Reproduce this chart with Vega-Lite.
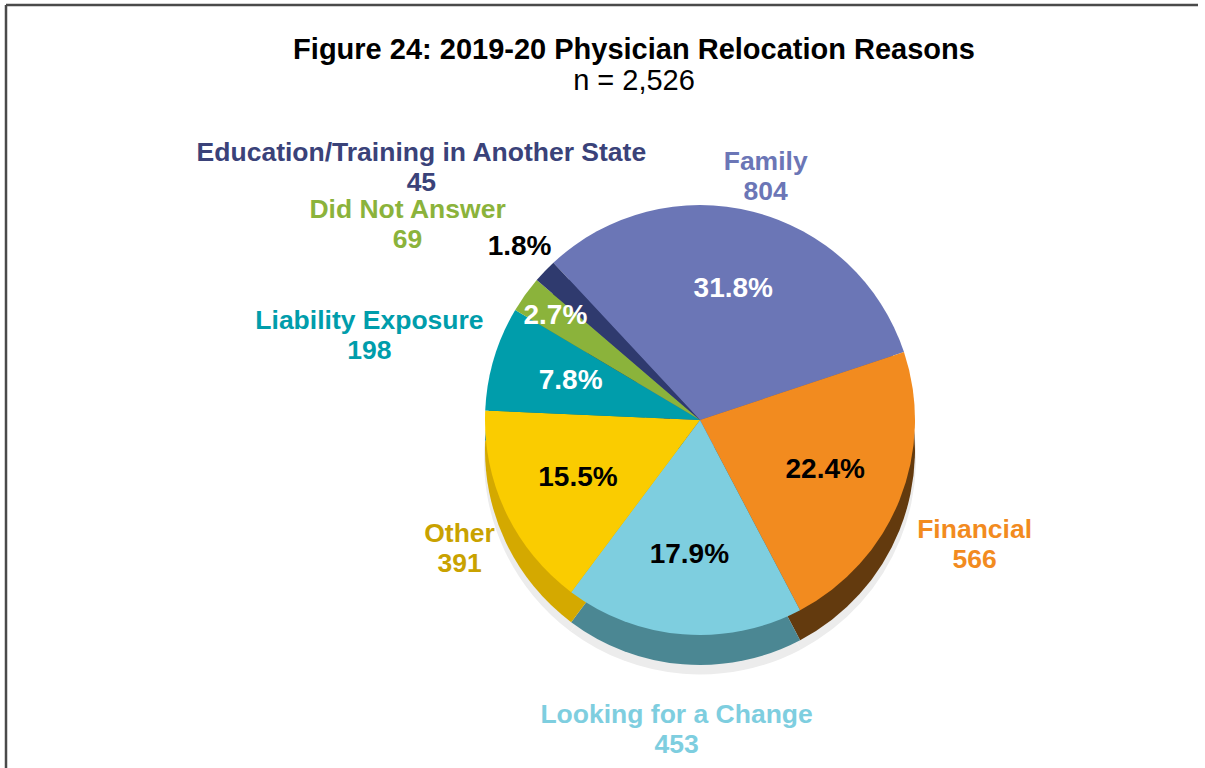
{
  "$schema": "https://vega.github.io/schema/vega-lite/v6.json",
  "width": 1199,
  "height": 763,
  "autosize": "none",
  "padding": {"left": 6, "top": 5, "right": 0, "bottom": 0},
  "background": "white",
  "view": {"stroke": "#4a4a4a", "strokeWidth": 2.5, "fill": "white", "strokeDash": [1192, 1969, 763, 0]},
  "config": {
    "font": "Liberation Sans",
    "text": {"font": "Liberation Sans"}
  },
  "title": {
    "text": "Figure 24: 2019-20 Physician Relocation Reasons",
    "subtitle": "n = 2,526",
    "font": "Liberation Sans",
    "subtitleFont": "Liberation Sans",
    "fontSize": 29,
    "fontWeight": "bold",
    "subtitleFontSize": 29,
    "subtitleFontWeight": "normal",
    "color": "#000000",
    "subtitleColor": "#000000",
    "anchor": "middle",
    "frame": "group",
    "offset": -91,
    "dx": 28.5,
    "subtitlePadding": 2
  },
  "data": {
    "values": [
      {"reason": "Family", "count": 804, "pct": 0.318},
      {"reason": "Financial", "count": 566, "pct": 0.224},
      {"reason": "Looking for a Change", "count": 453, "pct": 0.179},
      {"reason": "Other", "count": 391, "pct": 0.155},
      {"reason": "Liability Exposure", "count": 198, "pct": 0.078},
      {"reason": "Did Not Answer", "count": 69, "pct": 0.027},
      {"reason": "Education/Training in Another State", "count": 45, "pct": 0.018}
    ]
  },
  "transform": [
    {"window": [{"op": "row_number", "as": "idx"}]},
    {"calculate": "datum.reason + '\\n' + format(datum.count, ',')", "as": "label"}
  ],
  "encoding": {
    "theta": {"field": "count", "type": "quantitative", "stack": "zero", "scale": {"range": [-0.7505, 5.5327]}},
    "order": {"field": "idx", "type": "quantitative"}
  },
  "layer": [
    {
      "mark": {"type": "arc", "radius": 216, "xOffset": 94.5, "yOffset": 72, "color": "#ececec"},
      "encoding": {"detail": {"field": "reason", "type": "nominal"}}
    },
    {
      "mark": {"type": "arc", "radius": 215, "xOffset": 94.5, "yOffset": 63.5},
      "encoding": {
        "color": {"field": "reason", "type": "nominal", "legend": null,
          "scale": {"domain": ["Family", "Financial", "Looking for a Change", "Other", "Liability Exposure", "Did Not Answer", "Education/Training in Another State"],
                    "range": ["#4A5390", "#633A0E", "#4B8793", "#D4A900", "#00707A", "#637F2A", "#1F2753"]}}
      }
    },
    {
      "mark": {"type": "arc", "radius": 215, "xOffset": 94.5, "yOffset": 33.5},
      "encoding": {
        "color": {"field": "reason", "type": "nominal", "legend": null,
          "scale": {"domain": ["Family", "Financial", "Looking for a Change", "Other", "Liability Exposure", "Did Not Answer", "Education/Training in Another State"],
                    "range": ["#6B76B6", "#F28B1F", "#7ECEDF", "#FACC00", "#009DAB", "#8BB33B", "#2F3A6E"]}}
      }
    },
    {
      "mark": {"type": "text", "radius": 135, "xOffset": 94.5, "yOffset": 33.5, "fontSize": 28, "fontWeight": "bold"},
      "encoding": {
        "detail": {"field": "reason", "type": "nominal"},
        "text": {"condition": {"test": "datum.reason !== 'Did Not Answer' && datum.reason !== 'Education/Training in Another State'", "field": "pct", "type": "quantitative", "format": ".1%"}, "value": ""},
        "color": {"condition": {"test": "datum.reason === 'Family' || datum.reason === 'Liability Exposure'", "value": "#FFFFFF"}, "value": "#000000"}
      }
    },
    {
      "mark": {"type": "text", "radius": 178, "xOffset": 94.5, "yOffset": 33.5, "fontSize": 28, "fontWeight": "bold", "color": "#FFFFFF"},
      "encoding": {
        "detail": {"field": "reason", "type": "nominal"},
        "text": {"condition": {"test": "datum.reason === 'Did Not Answer'", "field": "pct", "type": "quantitative", "format": ".1%"}, "value": ""}
      }
    },
    {
      "mark": {"type": "text", "radius": 250, "xOffset": 94.5, "yOffset": 33.5, "fontSize": 28, "fontWeight": "bold", "color": "#000000"},
      "encoding": {
        "detail": {"field": "reason", "type": "nominal"},
        "text": {"condition": {"test": "datum.reason === 'Education/Training in Another State'", "field": "pct", "type": "quantitative", "format": ".1%"}, "value": ""}
      }
    },
    {
      "mark": {"type": "text", "radius": 266, "xOffset": 94.5, "yOffset": 33.5, "fontSize": 26.5, "fontWeight": "bold", "lineBreak": "\n", "lineHeight": 30},
      "encoding": {
        "text": {"condition": {"test": "datum.reason === 'Family' || datum.reason === 'Other'", "field": "label", "type": "nominal"}, "value": ""},
        "color": {"field": "reason", "type": "nominal", "legend": null,
          "scale": {"domain": ["Family", "Financial", "Looking for a Change", "Other", "Liability Exposure", "Did Not Answer", "Education/Training in Another State"],
                    "range": ["#6B76B6", "#F28B1F", "#7ECEDF", "#C9A200", "#009DAB", "#8BB33B", "#3A4279"]}}
      }
    },
    {
      "mark": {"type": "text", "radius": 296, "xOffset": 94.5, "yOffset": 33.5, "fontSize": 26.5, "fontWeight": "bold", "lineBreak": "\n", "lineHeight": 30},
      "encoding": {
        "text": {"condition": {"test": "datum.reason === 'Financial' || datum.reason === 'Looking for a Change'", "field": "label", "type": "nominal"}, "value": ""},
        "color": {"field": "reason", "type": "nominal", "legend": null,
          "scale": {"domain": ["Family", "Financial", "Looking for a Change", "Other", "Liability Exposure", "Did Not Answer", "Education/Training in Another State"],
                    "range": ["#6B76B6", "#F28B1F", "#7ECEDF", "#C9A200", "#009DAB", "#8BB33B", "#3A4279"]}}
      }
    },
    {
      "mark": {"type": "text", "radius": 345, "xOffset": 94.5, "yOffset": 33.5, "fontSize": 26.5, "fontWeight": "bold", "lineBreak": "\n", "lineHeight": 30},
      "encoding": {
        "text": {"condition": {"test": "datum.reason === 'Liability Exposure'", "field": "label", "type": "nominal"}, "value": ""},
        "color": {"field": "reason", "type": "nominal", "legend": null,
          "scale": {"domain": ["Family", "Financial", "Looking for a Change", "Other", "Liability Exposure", "Did Not Answer", "Education/Training in Another State"],
                    "range": ["#6B76B6", "#F28B1F", "#7ECEDF", "#C9A200", "#009DAB", "#8BB33B", "#3A4279"]}}
      }
    },
    {
      "mark": {"type": "text", "radius": 360, "xOffset": 94.5, "yOffset": 33.5, "fontSize": 26.5, "fontWeight": "bold", "lineBreak": "\n", "lineHeight": 30},
      "encoding": {
        "text": {"condition": {"test": "datum.reason === 'Did Not Answer'", "field": "label", "type": "nominal"}, "value": ""},
        "color": {"field": "reason", "type": "nominal", "legend": null,
          "scale": {"domain": ["Family", "Financial", "Looking for a Change", "Other", "Liability Exposure", "Did Not Answer", "Education/Training in Another State"],
                    "range": ["#6B76B6", "#F28B1F", "#7ECEDF", "#C9A200", "#009DAB", "#8BB33B", "#3A4279"]}}
      }
    },
    {
      "mark": {"type": "text", "radius": 386, "xOffset": 94.5, "yOffset": 33.5, "fontSize": 26.5, "fontWeight": "bold", "lineBreak": "\n", "lineHeight": 30},
      "encoding": {
        "text": {"condition": {"test": "datum.reason === 'Education/Training in Another State'", "field": "label", "type": "nominal"}, "value": ""},
        "color": {"field": "reason", "type": "nominal", "legend": null,
          "scale": {"domain": ["Family", "Financial", "Looking for a Change", "Other", "Liability Exposure", "Did Not Answer", "Education/Training in Another State"],
                    "range": ["#6B76B6", "#F28B1F", "#7ECEDF", "#C9A200", "#009DAB", "#8BB33B", "#3A4279"]}}
      }
    }
  ],
  "resolve": {"scale": {"color": "independent"}}
}
